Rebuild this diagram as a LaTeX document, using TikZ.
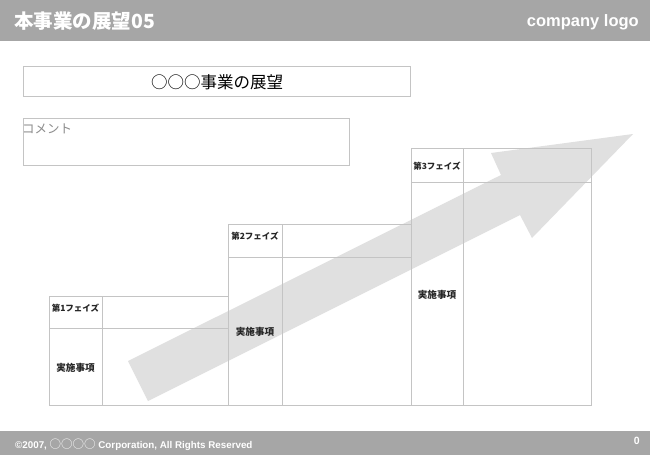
\documentclass[tikz,border=0pt]{standalone}
\usepackage{fontspec}
\setmainfont{Liberation Sans}
\newfontfamily\jp{Noto Sans CJK JP}
\definecolor{band}{HTML}{A6A6A6}
\definecolor{rule}{HTML}{C4C4C4}
\definecolor{arrowgray}{HTML}{E0E0E0}
\definecolor{softtext}{HTML}{8C8C8C}
\tikzset{
  boxline/.style={draw=rule, line width=1pt},
  headtext/.style={text=white, font=\jp\bfseries\fontsize{19.5}{19.5}\selectfont, inner sep=0pt},
  logotext/.style={text=white, font=\bfseries\fontsize{16.5}{16.5}\selectfont, inner sep=0pt},
  foottext/.style={text=white, font=\bfseries\fontsize{9.8}{9.8}\selectfont, inner sep=0pt},
  phaselabel/.style={font=\jp\bfseries\fontsize{8.5}{8.5}\selectfont, inner sep=0pt, text=black!85},
  tasklabel/.style={font=\jp\bfseries\fontsize{9.6}{9.6}\selectfont, inner sep=0pt, text=black!85},
}
\begin{document}
\begin{tikzpicture}[x=1pt,y=-1pt]
\useasboundingbox (0,0) rectangle (650,455);
\fill[white] (0,0) rectangle (650,455);
% header and footer bands
\fill[band] (0,0) rectangle (650,41);
\fill[band] (0,431) rectangle (650,455);
\node[headtext, anchor=west] (pagetitle) at (14,21) {本事業の展望05};
\node[logotext, anchor=base east] (logo) at (639,27) {company logo};
\node[foottext, anchor=west] (copyright) at (15,444.5) {©2007, {\jp\mdseries\fontsize{11.5}{11.5}\selectfont ○○○○} Corporation, All Rights Reserved};
\node[foottext, font=\bfseries\fontsize{10.5}{10.5}\selectfont, anchor=east] (pageno) at (640,441) {0};
% big arrow
\fill[arrowgray] (128,361) -- (501,175) -- (491,153) -- (633,134) -- (532,238) -- (520,215) -- (148,401) -- cycle;
% title box
\draw[boxline] (23,66) rectangle (410,96);
\node[font=\jp\fontsize{16.5}{16.5}\selectfont, inner sep=0pt] (maintitle) at (217,82) {○○○事業の展望};
% comment box
\draw[boxline] (23,118) rectangle (349,165);
\node[font=\jp\fontsize{12.5}{12.5}\selectfont, text=softtext, inner sep=0pt, anchor=north west] (comment) at (22,123.5) {コメント};
% phase 1
\draw[boxline] (49,296) rectangle (228,405);
\draw[boxline] (49,328) -- (228,328);
\draw[boxline] (102,296) -- (102,405);
% phase 2
\draw[boxline] (228,224) rectangle (411,405);
\draw[boxline] (228,257) -- (411,257);
\draw[boxline] (282,224) -- (282,405);
% phase 3
\draw[boxline] (411,148) rectangle (591,405);
\draw[boxline] (411,182) -- (591,182);
\draw[boxline] (463,148) -- (463,405);
% labels
\node[phaselabel] (p1) at (75.5,308) {第1フェイズ};
\node[tasklabel] (t1) at (75.5,368) {実施事項};
\node[phaselabel] (p2) at (255,236) {第2フェイズ};
\node[tasklabel] (t2) at (255,332) {実施事項};
\node[phaselabel] (p3) at (437,166) {第3フェイズ};
\node[tasklabel] (t3) at (437,295) {実施事項};
\end{tikzpicture}
\end{document}
